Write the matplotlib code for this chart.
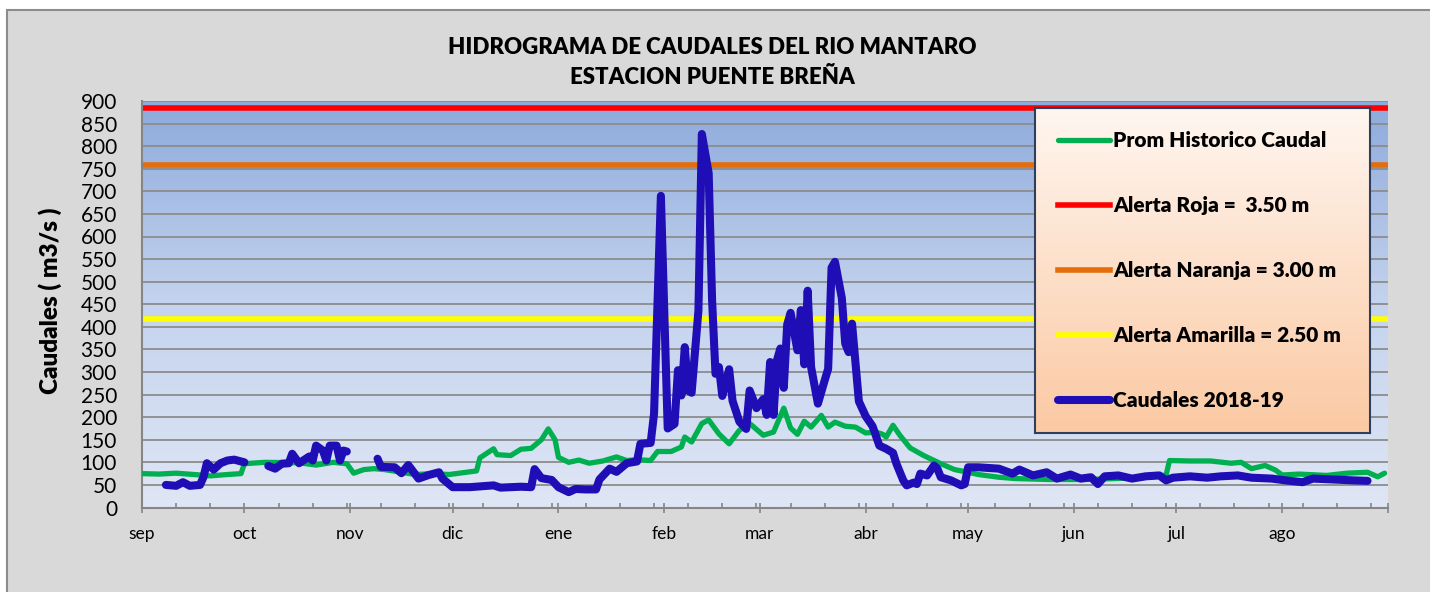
import matplotlib
matplotlib.use('Agg')
import matplotlib.pyplot as plt
import numpy as np
from matplotlib.colors import LinearSegmentedColormap
from matplotlib.patches import Rectangle

plt.rcParams['font.family'] = ['Lato', 'DejaVu Sans']

# meses (dia de inicio dentro del año hidrologico sep-ago)
month_labels = ['sep', 'oct', 'nov', 'dic', 'ene', 'feb', 'mar', 'abr', 'may', 'jun', 'jul', 'ago', '']
month_starts = [0, 30, 61, 91, 122, 153, 181, 212, 242, 273, 303, 334, 365]

# promedio historico del caudal (m3/s)
green_days = [0, 5, 10, 17, 20, 25, 29, 30, 36, 46, 51, 56, 60, 62, 65, 68, 71, 76, 80, 85,
              90, 95, 98, 99, 103, 104, 108, 111, 114, 117, 119, 121, 122, 125, 128, 131, 135,
              139, 142, 145, 149, 151, 155, 158, 159, 161, 164, 166, 169, 172, 175, 178, 182,
              185, 188, 190, 192, 194, 196, 199, 201, 203, 206, 209, 212, 215, 217, 218, 220,
              222, 225, 229, 234, 238, 242, 245, 251, 256, 266, 276, 285, 295, 300, 301, 307,
              313, 319, 322, 325, 329, 332, 334, 339, 347, 353, 359, 362, 364]
green_vals = [75, 74, 76, 72, 70, 73, 75, 97, 100, 99, 94, 100, 97, 76, 84, 86, 84, 78, 73, 75,
              73, 78, 81, 110, 130, 117, 115, 129, 131, 150, 174, 150, 111, 100, 105, 98, 103,
              112, 104, 106, 104, 124, 124, 134, 156, 145, 186, 194, 163, 141, 171, 186, 160,
              167, 220, 176, 162, 191, 178, 204, 178, 189, 180, 178, 165, 167, 162, 156, 182,
              160, 132, 115, 97, 84, 78, 73, 67, 64, 62, 62, 64, 67, 72, 104, 103,
              103, 98, 100, 86, 93, 83, 72, 74, 71, 76, 78, 68, 76]

# caudales 2018-19 (nan = sin dato)
blue_days = [7, 10, 12, 14, 17, 18, 19, 21, 23, 25, 27, 30, 33,
             37, 39, 41, 43, 44, 46, 49, 50, 51, 53, 54, 55, 57, 58, 59, 60, 64,
             69, 70, 74, 76, 78, 81, 84, 87, 88, 91, 96, 103, 105, 111, 114, 115, 117, 120,
             122, 125, 127, 130, 133, 134, 137, 139, 142, 145, 146, 149, 150, 152, 154, 156,
             157, 158, 159, 160, 161, 163, 164, 166, 167, 168, 169, 170, 172, 173, 175, 177,
             178, 180, 182, 183, 184, 185, 186, 187, 188, 189, 190, 192, 193, 194, 195, 196,
             198, 200, 201, 202, 203, 205, 206, 207, 208, 210, 212, 214, 216, 218, 220, 221,
             223, 224, 226, 227, 228, 230, 232, 233, 234, 237, 240, 241, 242, 245, 251, 255,
             257, 261, 265, 268, 272, 275, 278, 280, 282, 286, 290, 294, 298, 300, 302, 307,
             312, 316, 321, 325, 331, 335, 340, 343, 349, 355, 359]
blue_vals = [50, 48, 56, 48, 50, 67, 98, 84, 98, 104, 106, 100, np.nan,
             92, 86, 97, 98, 119, 98, 113, 104, 137, 126, 104, 137, 137, 104, 126, 124, np.nan,
             108, 90, 89, 76, 94, 64, 72, 78, 64, 45, 45, 49, 44, 46, 45, 85, 65, 61,
             45, 34, 41, 40, 40, 62, 86, 79, 98, 102, 141, 143, 208, 690, 175, 185,
             304, 248, 355, 259, 254, 436, 827, 740, 459, 296, 311, 247, 306, 236, 190, 174,
             259, 220, 240, 205, 322, 205, 326, 352, 265, 405, 431, 348, 437, 317, 480, 311,
             230, 282, 307, 531, 544, 464, 363, 344, 407, 235, 202, 180, 137, 130, 121, 97,
             60, 49, 55, 52, 75, 71, 93, 86, 67, 60, 49, 52, 89, 89, 86, 75,
             84, 71, 78, 64, 73, 64, 67, 52, 69, 71, 64, 69, 71, 60, 66, 69,
             66, 69, 71, 66, 64, 60, 56, 64, 62, 60, 59]

# umbrales de alerta (m3/s)
alert_labels = ['Alerta Roja =  3.50 m', 'Alerta Naranja = 3.00 m', 'Alerta Amarilla = 2.50 m']
alert_vals = [885, 758, 418]
alert_colors = ['#ff0000', '#e46c0a', '#ffff00']

fig = plt.figure(figsize=(14.3, 5.92), dpi=100, facecolor='white')
fig.patches.append(Rectangle((7 / 1430, -0.05), 1.1, 1 - 10 / 592 + 0.05, transform=fig.transFigure,
                             facecolor='#d9d9d9', edgecolor='#8c8c8c', lw=1.5, zorder=-10))

ax = fig.add_axes([142 / 1430, 84.5 / 592, 1246 / 1430, 406.5 / 592])
ax.patch.set_alpha(0)
bg_cmap = LinearSegmentedColormap.from_list('bg', ['#dfe6f5', '#c4d3ee', '#8daadc'])
ax.imshow(np.linspace(0, 1, 256).reshape(-1, 1), extent=[0, 365, 0, 900], origin='lower',
          aspect='auto', cmap=bg_cmap, zorder=-1)

handles = []
for lab, val, col in zip(alert_labels, alert_vals, alert_colors):
    h = ax.axhline(val, color=col, lw=4, zorder=2, label=lab)
    handles.append(h)
g, = ax.plot(green_days, green_vals, color='#00b050', lw=3.8, zorder=3,
             solid_capstyle='round', solid_joinstyle='round', label='Prom Historico Caudal')
b, = ax.plot(blue_days, blue_vals, color='#1f0db5', lw=5.8, zorder=4,
             solid_capstyle='round', solid_joinstyle='round', label='Caudales 2018-19')

ax.set_xlim(0, 365)
ax.set_ylim(0, 900)
ax.set_yticks(range(0, 901, 50))
ax.set_axisbelow(True)
ax.yaxis.grid(True, color='#8c8c8c', lw=1.3)
ax.tick_params(axis='y', length=0, pad=18, labelsize=15)

ax.set_xticks(month_starts)
ax.set_xticklabels(month_labels)
ax.set_xticks(np.arange(0, 366, 10), minor=True)
ax.tick_params(axis='x', which='major', direction='inout', length=7, width=1.2,
               color='#868686', labelsize=12.5, pad=10)
ax.tick_params(axis='x', which='minor', direction='in', length=3.5, width=1.2, color='#868686')

for s in ['top', 'right']:
    ax.spines[s].set_visible(False)
for s in ['left', 'bottom']:
    ax.spines[s].set_color('#868686')
    ax.spines[s].set_linewidth(1.5)

fig.text(712 / 1430, 1 - 47 / 592, 'HIDROGRAMA DE CAUDALES DEL RIO MANTARO', ha='center', va='center',
         fontsize=16, fontweight='heavy')
fig.text(712 / 1430, 1 - 78 / 592, 'ESTACION PUENTE BREÑA', ha='center', va='center',
         fontsize=16, fontweight='heavy')
fig.text(50 / 1430, 1 - 301 / 592, 'Caudales ( m3/s )', rotation=90, ha='center', va='center',
         fontsize=17.5, fontweight='heavy')

# caja de leyenda con degradado
lax = fig.add_axes([1035 / 1430, 159 / 592, 335 / 1430, 325 / 592])
lax.set_zorder(5)
lg_cmap = LinearSegmentedColormap.from_list('lg', ['#fbc9a3', '#fff6f0'])
lax.imshow(np.linspace(0, 1, 256).reshape(-1, 1), extent=[0, 1, 0, 1], origin='lower',
           aspect='auto', cmap=lg_cmap)
lax.set_xticks([])
lax.set_yticks([])
for s in lax.spines.values():
    s.set_color('#2e3f5e')
    s.set_linewidth(1.5)

lax.legend([g] + handles + [b], [g.get_label()] + alert_labels + [b.get_label()],
           loc='center left', bbox_to_anchor=(23 / 335, 0.5), frameon=False,
           prop={'weight': 'heavy', 'size': 15}, handlelength=2.5, handletextpad=0.14,
           labelspacing=2.21, borderpad=0, borderaxespad=0)

fig.savefig('out.png', dpi=100, facecolor=fig.get_facecolor())
